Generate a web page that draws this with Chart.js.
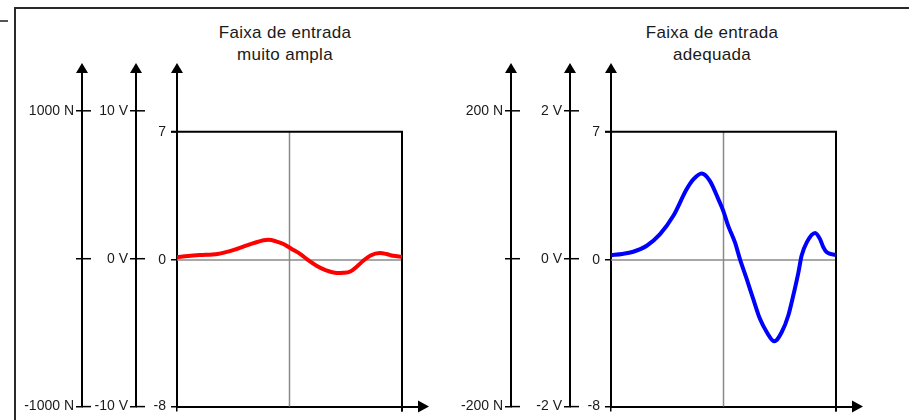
<!DOCTYPE html>
<html><head><meta charset="utf-8">
<script src="https://cdn.jsdelivr.net/npm/chart.js@4"></script>
<style>
html,body{margin:0;padding:0;background:#fff;}
#wrap{position:relative;width:909px;height:420px;overflow:hidden;background:#fff;}
#frame{position:absolute;left:14px;top:7px;width:900px;height:430px;border-top:2.5px solid #2a2a2a;border-left:2px solid #2a2a2a;}
#dash{position:absolute;left:0;top:20px;width:8px;height:1.5px;background:#555;}
canvas{position:absolute;top:0;}
#cL{left:0;}
#cR{left:434px;}
.title{position:absolute;top:22px;width:300px;font-family:'Liberation Sans',Arial,sans-serif;font-size:17px;line-height:22px;text-align:center;color:#1a1a1a;letter-spacing:0.3px;}
</style></head>
<body><div id="wrap">
<div id="frame"></div><div id="dash"></div>
<div class="title" style="left:135px">Faixa de entrada<br>muito ampla</div>
<div class="title" style="left:562px">Faixa de entrada<br>adequada</div>
<canvas id="cL" width="434" height="420"></canvas>
<canvas id="cR" width="475" height="420"></canvas>
</div>
<script>
// ---- data (x in % of time window, y in digits) ----
const leftX  = [0, 5, 10, 18, 26.5, 34, 40.6, 44, 47.3, 51, 54.7, 58, 62, 66, 71, 74, 77, 80, 82.8, 86, 90.2, 93, 96, 100];
const leftY  = [0.15, 0.22, 0.27, 0.33, 0.6, 0.92, 1.1, 1.02, 0.87, 0.6, 0.33, 0.02, -0.31, -0.55, -0.71, -0.7, -0.63, -0.35, -0.04, 0.25, 0.38, 0.33, 0.23, 0.18];
const rightX = [0, 5, 9.9, 15.9, 21.8, 27.7, 33.6, 36.6, 40.3, 44, 47.7, 49.9, 52.1, 55.1, 57.3, 60.3, 63.2, 66.2, 69.2, 72.6, 75.9, 78.8, 81, 83.3, 84.7, 87, 90.7, 92.9, 94.4, 95.9, 100];
const rightY = [0.27, 0.33, 0.45, 0.78, 1.41, 2.41, 3.86, 4.4, 4.72, 4.31, 3.32, 2.68, 1.86, 0.96, 0.05, -1.03, -2.12, -3.21, -3.93, -4.44, -3.93, -3.03, -1.94, -0.67, 0.23, 0.96, 1.47, 1.14, 0.69, 0.42, 0.27];

const digitTicks = [-8, 0, 7];
const digitLabels = ['-8', '0', '7'];
const xTicks = [0, 100];

const nTicksLeft  = [-1000, 0, 1000];
const nLabelsLeft = ['-1000 N', '', '1000 N'];
const vTicksLeft  = [-10, 0, 10];
const vLabelsLeft = ['-10 V', '0 V', '10 V'];

const nTicksRight  = [-200, 0, 200];
const nLabelsRight = ['-200 N', '', '200 N'];
const vTicksRight  = [-2, 0, 2];
const vLabelsRight = ['-2 V', '0 V', '2 V'];

const FONT = {family: "'Liberation Sans', Arial, sans-serif", size: 14};
const TXT = '#1a1a1a';

function labelFor(ticksArr, labelsArr) {
  return (value) => { const i = ticksArr.indexOf(value); return i >= 0 ? labelsArr[i] : ''; };
}
function setTicks(arr) { return (s) => { s.ticks = arr.map(v => ({value: v})); }; }

const framePlugin = {
  id: 'frameDeco',
  beforeDatasetsDraw(chart) {
    const {ctx, scales} = chart;
    const x = scales.x, y = scales.y;
    const x0 = x.getPixelForValue(0), x50 = x.getPixelForValue(50), x100 = x.getPixelForValue(100);
    const yTop = y.getPixelForValue(7), yZero = y.getPixelForValue(0), yBot = y.getPixelForValue(-8);
    ctx.save();
    ctx.strokeStyle = '#8a8a8a'; ctx.lineWidth = 1.5;
    ctx.beginPath();
    ctx.moveTo(x50, yTop); ctx.lineTo(x50, yBot);
    ctx.moveTo(x0, yZero); ctx.lineTo(x100, yZero);
    ctx.stroke();
    ctx.strokeStyle = '#000'; ctx.lineWidth = 2;
    ctx.beginPath();
    ctx.moveTo(x0 - 6, yTop); ctx.lineTo(x100, yTop); ctx.lineTo(x100, yBot + 5);
    ctx.stroke();
    ctx.restore();
  },
  afterDraw(chart) {
    const {ctx, scales, chartArea} = chart;
    ctx.save();
    ctx.fillStyle = '#000'; ctx.strokeStyle = '#000'; ctx.lineWidth = 1.5;
    ['yN', 'yV', 'y'].forEach(id => {
      const s = scales[id];
      const xb = s.right;
      ctx.beginPath();
      ctx.moveTo(xb, chartArea.top - 7);
      ctx.lineTo(xb + 6, chartArea.top + 3);
      ctx.lineTo(xb - 6, chartArea.top + 3);
      ctx.closePath(); ctx.fill();
      if (id !== 'y') {
        s.ticks.forEach(t => {
          const py = s.getPixelForValue(t.value);
          ctx.beginPath(); ctx.moveTo(xb, py); ctx.lineTo(xb + 9, py); ctx.stroke();
        });
      }
    });
    const yb = scales.x.top;
    const xr = chartArea.right;
    ctx.beginPath();
    ctx.moveTo(xr + 9, yb);
    ctx.lineTo(xr - 2, yb - 6);
    ctx.lineTo(xr - 2, yb + 6);
    ctx.closePath(); ctx.fill();
    ctx.restore();
  }
};

function makeChart(id, xs, ys, color, nTicks, nLabels, nMin, nMax, vTicks, vLabels, vMin, vMax, nWidth, vWidth, padRight) {
  const data = xs.map((v, i) => ({x: v, y: ys[i]}));
  return new Chart(document.getElementById(id), {
    type: 'line',
    data: {datasets: [{data, borderColor: color, backgroundColor: color, borderWidth: 4, pointRadius: 0, cubicInterpolationMode: 'monotone', fill: false}]},
    options: {
      responsive: false, animation: false, devicePixelRatio: 1,
      layout: {padding: {left: 20, right: padRight, top: 70, bottom: 7}},
      plugins: {legend: {display: false}, tooltip: {enabled: false}, title: {display: false}},
      scales: {
        x: {type: 'linear', min: 0, max: 108, position: 'bottom',
            afterBuildTicks: setTicks(xTicks),
            afterFit: s => { s.height = 5; },
            ticks: {display: false},
            grid: {drawOnChartArea: false, tickLength: 5, color: '#000', lineWidth: 1.5},
            border: {color: '#000', width: 2}},
        y: {type: 'linear', position: 'left', weight: 0, min: -8, max: 10.37,
            afterBuildTicks: setTicks(digitTicks),
            afterFit: s => { s.width = 41; },
            ticks: {font: FONT, color: TXT, padding: 5, callback: labelFor(digitTicks, digitLabels)},
            grid: {drawOnChartArea: false, tickLength: 6, color: '#000', lineWidth: 1.5},
            border: {color: '#000', width: 2}},
        yV: {type: 'linear', position: 'left', weight: 1, min: vMin, max: vMax,
            afterBuildTicks: setTicks(vTicks),
            afterFit: s => { s.width = vWidth; },
            ticks: {font: FONT, color: TXT, padding: 2, callback: labelFor(vTicks, vLabels)},
            grid: {drawOnChartArea: false, tickLength: 6, color: '#000', lineWidth: 1.5},
            border: {color: '#000', width: 2}},
        yN: {type: 'linear', position: 'left', weight: 2, min: nMin, max: nMax,
            afterBuildTicks: setTicks(nTicks),
            afterFit: s => { s.width = nWidth; },
            ticks: {font: FONT, color: TXT, padding: 2, callback: labelFor(nTicks, nLabels)},
            grid: {drawOnChartArea: false, tickLength: 6, color: '#000', lineWidth: 1.5},
            border: {color: '#000', width: 2}}
      }
    },
    plugins: [framePlugin]
  });
}

makeChart('cL', leftX, leftY, '#ff0000', nTicksLeft, nLabelsLeft, -1000, 1276, vTicksLeft, vLabelsLeft, -10, 12.76, 62, 54, 14);
makeChart('cR', rightX, rightY, '#0000ff', nTicksRight, nLabelsRight, -200, 255.2, vTicksRight, vLabelsRight, -2, 2.552, 57, 59, 55);
</script>
</body></html>
